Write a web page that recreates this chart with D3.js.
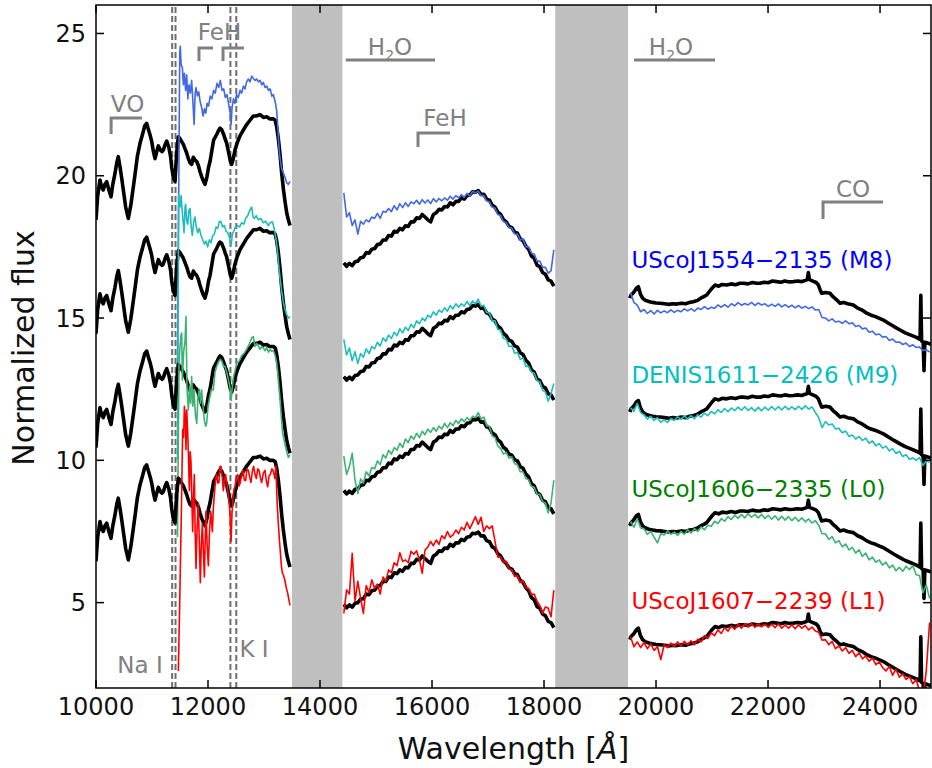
<!DOCTYPE html>
<html><head><meta charset="utf-8">
<script src="https://cdn.jsdelivr.net/npm/d3@7"></script>
<style>body{margin:0;background:#fff;} svg{display:block;font-family:"DejaVu Sans",sans-serif;}</style>
</head><body><svg id="c" width="932" height="768"></svg>
<script>
// ---------- data (normalized flux, before vertical offsets) ----------
// J band: [wavelength, flux] pairs
const modelJ = [[10000,6.45],[10030,7.3],[10071,7.85],[10100,7.6],[10130,7.5],[10160,7.7],[10191,7.79],[10230,7.5],[10268,7.26],[10300,7.7],[10339,8.08],[10370,8.45],[10398,8.67],[10430,8.3],[10460,7.9],[10488,7.5],[10530,6.9],[10577,6.5],[10620,6.95],[10666,7.6],[10700,8.1],[10740,8.7],[10786,9.14],[10830,9.45],[10870,9.75],[10905,9.84],[10940,9.6],[10970,9.4],[10995,9.2],[11025,8.85],[11054,8.6],[11085,8.85],[11113,9.05],[11150,8.9],[11180,8.85],[11202,8.9],[11235,9.1],[11263,9.22],[11300,9.0],[11330,8.7],[11352,8.3],[11380,7.95],[11411,7.8],[11440,8.8],[11470,9.37],[11500,9.3],[11530,9.2],[11560,9.1],[11589,8.95],[11619,8.8],[11650,8.6],[11679,8.45],[11708,8.4],[11738,8.65],[11770,8.55],[11798,8.5],[11830,8.35],[11857,8.15],[11890,7.95],[11920,7.8],[11946,7.7],[11980,7.95],[12010,8.3],[12036,8.5],[12070,8.9],[12100,9.25],[12155,9.45],[12190,9.6],[12214,9.67],[12244,9.62],[12280,9.45],[12304,9.3],[12333,9.15],[12370,8.8],[12400,8.5],[12423,8.4],[12445,8.55],[12482,8.9],[12520,9.15],[12571,9.4],[12630,9.6],[12691,9.8],[12750,9.95],[12810,10.1],[12860,10.1],[12929,10.15],[12990,10.05],[13048,10.07],[13100,10.0],[13167,10.0],[13200,9.95],[13226,9.72],[13256,9.3],[13286,8.75],[13315,8.1],[13345,7.55],[13375,7.1],[13405,6.7],[13435,6.45],[13464,6.25]];
const m8J = [[11455,1.25],[11495,12.3],[11505,12.55],[11520,11.9],[11542,11.8],[11560,11.2],[11578,11.6],[11600,11.0],[11619,11.55],[11640,10.7],[11661,11.2],[11685,10.9],[11708,11.35],[11730,10.6],[11752,9.8],[11770,10.9],[11786,11.1],[11810,10.8],[11835,10.95],[11860,10.6],[11887,10.4],[11910,10.1],[11935,10.35],[11960,10.2],[11985,10.55],[12010,10.45],[12040,10.8],[12070,10.7],[12100,11.0],[12130,10.9],[12160,11.25],[12190,11.1],[12220,11.35],[12250,11.0],[12280,11.05],[12310,10.75],[12340,10.85],[12370,10.5],[12395,10.2],[12412,9.8],[12430,10.4],[12455,10.7],[12480,10.55],[12510,10.85],[12540,10.75],[12571,11.0],[12600,10.9],[12631,11.15],[12660,11.05],[12690,11.3],[12720,11.4],[12750,11.3],[12780,11.5],[12810,11.42],[12840,11.35],[12870,11.4],[12899,11.3],[12930,11.35],[12960,11.2],[12988,11.28],[13020,11.1],[13050,11.15],[13080,11.0],[13110,11.05],[13140,10.8],[13167,10.85],[13200,10.6],[13226,10.3],[13250,9.6],[13270,8.9],[13295,8.5],[13315,8.25],[13345,8.1],[13375,7.95],[13405,7.75],[13435,7.7],[13465,7.8]];
const m9J = [[11455,2.0],[11475,11.35],[11500,10.9],[11520,11.3],[11542,10.7],[11560,10.3],[11572,10.0],[11590,10.9],[11601,11.0],[11620,10.4],[11637,10.3],[11660,10.8],[11679,10.85],[11700,10.2],[11720,9.9],[11745,10.4],[11768,10.55],[11790,10.2],[11816,10.0],[11845,10.15],[11875,9.9],[11905,9.75],[11935,9.6],[11965,9.7],[11994,9.5],[12025,9.75],[12054,9.65],[12085,9.9],[12113,9.95],[12145,10.2],[12173,10.15],[12205,10.4],[12232,10.38],[12262,10.2],[12292,10.25],[12322,10.05],[12351,10.0],[12380,9.85],[12411,9.55],[12435,9.95],[12458,10.05],[12490,10.2],[12530,10.25],[12565,10.2],[12601,10.35],[12640,10.3],[12673,10.5],[12710,10.6],[12750,10.8],[12780,10.9],[12805,10.55],[12827,10.5],[12860,10.6],[12899,10.45],[12940,10.5],[12988,10.35],[13030,10.4],[13077,10.25],[13110,10.35],[13149,10.38],[13175,10.2],[13196,10.0],[13220,9.7],[13244,9.28],[13265,8.8],[13286,8.42],[13315,7.95],[13345,7.55],[13375,7.3],[13405,7.12],[13435,7.0],[13464,7.05]];
const l0J = [[11455,3.3],[11482,9.39],[11500,10.0],[11518,10.4],[11530,10.47],[11542,8.82],[11566,9.83],[11590,10.2],[11607,11.05],[11625,8.5],[11649,7.77],[11670,8.6],[11690,8.0],[11708,8.94],[11730,7.9],[11750,8.5],[11775,7.6],[11798,7.3],[11820,8.2],[11845,8.5],[11865,8.0],[11887,8.47],[11910,7.9],[11935,7.4],[11958,7.2],[11976,7.3],[12000,7.9],[12030,8.2],[12060,8.5],[12095,8.47],[12125,9.1],[12155,9.3],[12185,9.45],[12214,9.55],[12244,9.5],[12280,9.3],[12304,9.3],[12333,9.1],[12363,8.85],[12390,8.6],[12411,8.1],[12430,8.5],[12458,8.96],[12490,9.2],[12512,9.41],[12560,9.5],[12601,9.68],[12640,9.75],[12690,9.9],[12740,10.1],[12780,10.3],[12810,10.35],[12839,10.0],[12870,10.1],[12899,10.04],[12930,9.9],[12960,10.0],[12988,9.95],[13020,9.85],[13048,9.97],[13080,9.8],[13110,9.9],[13137,9.83],[13167,9.85],[13196,9.7],[13220,9.5],[13244,9.11],[13265,8.6],[13286,8.15],[13310,7.5],[13330,7.0],[13355,6.75],[13375,6.55],[13405,6.3],[13435,6.1],[13464,6.2]];
const l1J = [[11470,2.6],[11490,4.5],[11518,7.49],[11535,9.5],[11548,11.09],[11565,10.8],[11578,11.9],[11595,11.5],[11607,10.37],[11620,11.77],[11637,11.0],[11652,10.1],[11667,8.93],[11682,10.3],[11696,9.94],[11712,8.6],[11726,7.49],[11742,8.8],[11756,9.5],[11770,7.5],[11786,6.2],[11805,7.6],[11827,8.5],[11845,7.1],[11863,5.7],[11880,7.0],[11899,7.78],[11917,6.8],[11935,5.9],[11950,7.2],[11964,8.21],[11985,7.0],[12006,6.3],[12027,7.5],[12048,8.21],[12062,7.9],[12077,7.49],[12095,8.3],[12113,8.79],[12135,9.3],[12155,9.5],[12175,9.2],[12196,9.22],[12214,9.78],[12232,9.79],[12255,9.4],[12274,8.93],[12295,9.3],[12315,9.5],[12340,9.1],[12363,8.79],[12390,8.2],[12411,7.15],[12430,8.2],[12446,8.64],[12465,9.0],[12482,9.07],[12505,9.4],[12530,9.5],[12555,9.1],[12577,9.22],[12600,9.5],[12625,9.65],[12650,9.3],[12673,9.29],[12695,9.7],[12720,9.65],[12745,9.4],[12768,9.22],[12790,9.6],[12815,9.79],[12840,9.5],[12863,9.36],[12887,9.7],[12911,9.65],[12935,9.4],[12958,9.22],[12988,9.55],[13018,9.65],[13040,9.3],[13065,9.07],[13090,9.45],[13113,9.5],[13140,9.7],[13161,9.65],[13180,9.5],[13196,9.36],[13212,9.8],[13226,8.93],[13240,8.3],[13256,7.78],[13275,7.2],[13292,6.77],[13310,6.3],[13327,6.05],[13350,5.95],[13375,5.76],[13400,5.5],[13423,5.33],[13445,5.1],[13464,4.9]];

// H band: sampled every 50 A from 14425 A
const wlH = d3.range(14425, 18176, 50);
const modelH = [4.94,4.82,4.92,4.84,4.98,5.0,5.12,5.14,5.3,5.28,5.42,5.44,5.58,5.6,5.74,5.74,5.9,5.88,6.05,6.02,6.15,6.1,6.24,6.22,6.38,6.38,6.52,6.5,6.64,6.55,6.45,6.38,6.64,6.7,6.82,6.8,6.92,6.9,7.05,6.98,7.1,7.1,7.22,7.18,7.3,7.32,7.44,7.42,7.48,7.34,7.35,7.18,7.14,6.96,6.9,6.72,6.64,6.46,6.38,6.22,6.18,6.02,5.98,5.78,5.72,5.52,5.42,5.18,5.1,4.86,4.8,4.6,4.54,4.34,4.3,4.12];
const m8H = [7.4,6.55,6.7,6.25,6.45,5.95,6.4,6.3,6.45,6.38,6.55,6.5,6.68,6.5,6.75,6.72,6.85,6.74,6.95,6.8,7.02,6.88,7.05,6.92,7.08,7.02,7.14,7.0,7.16,7.04,7.15,7.02,7.2,7.08,7.2,7.12,7.22,7.14,7.28,7.18,7.3,7.22,7.34,7.24,7.38,7.28,7.45,7.4,7.46,7.3,7.3,7.12,7.08,6.9,6.86,6.64,6.6,6.4,6.34,6.18,6.16,5.96,5.95,5.74,5.78,5.5,5.5,5.28,5.25,5.0,5.0,4.78,4.78,4.58,4.66,5.4];
const m9H = [6.25,5.7,5.95,5.5,5.82,5.4,5.75,5.62,5.92,5.75,6.0,5.92,6.15,6.02,6.3,6.18,6.4,6.28,6.5,6.38,6.62,6.48,6.68,6.56,6.78,6.66,6.9,6.8,7.0,6.9,7.1,7.02,7.22,7.1,7.28,7.2,7.36,7.24,7.44,7.32,7.5,7.38,7.5,7.42,7.58,7.44,7.6,7.5,7.66,7.42,7.45,7.2,7.18,6.9,6.9,6.6,6.58,6.28,6.26,6.0,6.02,5.76,5.8,5.55,5.6,5.3,5.3,5.1,5.06,4.8,4.76,4.46,4.4,4.08,4.35,4.7];
const l0H = [6.15,5.5,5.78,6.25,5.3,4.84,5.35,5.2,5.6,5.45,5.75,5.7,5.98,5.85,6.2,6.08,6.35,6.22,6.45,6.36,6.6,6.45,6.75,6.62,6.85,6.74,6.95,6.8,7.02,6.9,7.1,6.98,7.15,7.02,7.2,7.1,7.3,7.15,7.32,7.22,7.4,7.3,7.46,7.36,7.5,7.4,7.55,7.5,7.68,7.45,7.52,7.22,7.2,6.85,6.8,6.5,6.42,6.22,6.28,6.08,6.12,5.88,5.85,5.6,5.6,5.36,5.32,5.08,5.05,4.82,4.8,4.55,4.5,4.15,4.5,5.3];
const l1H = [4.62,5.45,5.3,6.73,5.05,5.75,5.15,4.62,5.6,5.35,5.8,5.5,5.65,5.3,5.9,5.75,6.15,6.05,6.4,6.3,6.75,6.45,6.5,6.4,6.8,6.7,6.82,6.5,6.03,6.85,6.95,7.15,7.0,7.2,7.05,7.35,7.25,7.5,7.3,7.38,7.55,7.42,7.65,7.55,7.82,7.6,7.8,8.02,7.75,8.0,7.5,7.7,7.6,7.7,7.15,6.6,6.6,6.42,6.45,6.18,6.15,5.92,5.95,5.7,5.78,5.52,5.5,5.28,5.3,5.05,4.9,4.62,4.85,4.8,4.5,5.44];

// K band: model as pairs, objects sampled every 60 A from 19545 A
const modelK = [[19530,3.7],[19554,3.81],[19600,3.9],[19650,4.05],[19685,4.1],[19720,3.85],[19760,3.7],[19804,3.63],[19870,3.58],[19940,3.55],[20000,3.53],[20071,3.52],[20150,3.5],[20230,3.48],[20300,3.5],[20369,3.49],[20450,3.52],[20530,3.5],[20600,3.55],[20667,3.57],[20740,3.62],[20800,3.7],[20860,3.76],[20905,3.81],[20960,3.95],[21000,4.05],[21054,4.16],[21120,4.12],[21180,4.18],[21262,4.16],[21340,4.2],[21420,4.17],[21500,4.22],[21560,4.22],[21640,4.2],[21720,4.25],[21800,4.22],[21857,4.22],[21930,4.26],[22000,4.24],[22080,4.3],[22155,4.28],[22230,4.26],[22300,4.3],[22380,4.27],[22452,4.28],[22530,4.3],[22600,4.28],[22660,4.32],[22700,4.35],[22720,4.6],[22740,4.35],[22800,4.3],[22860,4.25],[22899,4.16],[22930,4.0],[22958,3.87],[23030,3.9],[23107,3.87],[23160,3.75],[23220,3.65],[23286,3.52],[23350,3.55],[23420,3.5],[23524,3.46],[23600,3.35],[23680,3.28],[23762,3.17],[23840,3.1],[23920,3.05],[24000,2.98],[24060,2.93],[24150,2.82],[24250,2.7],[24357,2.58],[24450,2.48],[24550,2.4],[24650,2.32],[24715,2.25],[24728,3.8],[24742,2.2],[24770,2.15],[24785,1.15],[24800,2.15],[24850,2.12],[24910,2.08]];
const wlK = d3.range(19545, 24886, 60);
const m8K = [3.9,3.55,3.45,3.22,3.3,3.16,3.26,3.14,3.27,3.18,3.25,3.19,3.29,3.2,3.27,3.22,3.32,3.25,3.33,3.24,3.35,3.3,3.4,3.31,3.38,3.34,3.46,3.38,3.47,3.38,3.5,3.43,3.54,3.45,3.51,3.46,3.55,3.44,3.53,3.46,3.5,3.41,3.49,3.41,3.5,3.39,3.47,3.38,3.45,3.36,3.44,3.35,3.41,3.33,3.39,3.28,3.3,3.02,3.0,2.9,2.97,2.86,2.89,2.81,2.9,2.8,2.83,2.7,2.74,2.62,2.65,2.5,2.54,2.41,2.44,2.33,2.35,2.21,2.26,2.15,2.16,2.07,2.12,2.0,2.06,1.97,1.98,1.86,1.89,1.8];
const m9K = [3.85,3.72,4.0,3.68,3.6,3.45,3.55,3.4,3.5,3.34,3.42,3.33,3.47,3.4,3.53,3.44,3.56,3.45,3.57,3.46,3.6,3.52,3.66,3.57,3.72,3.63,3.78,3.68,3.82,3.71,3.84,3.75,3.87,3.76,3.88,3.75,3.85,3.73,3.86,3.74,3.87,3.76,3.89,3.77,3.89,3.77,3.9,3.78,3.88,3.78,3.9,3.79,3.92,3.8,3.88,3.68,3.5,3.15,3.36,3.24,3.28,3.1,3.13,2.97,3.03,2.84,2.89,2.75,2.84,2.7,2.78,2.6,2.68,2.51,2.59,2.43,2.5,2.33,2.41,2.24,2.32,2.13,2.2,2.03,2.09,2.0,2.1,1.82,1.98,1.92];
const l0K = [3.85,3.65,3.95,3.62,3.6,3.4,3.5,3.3,3.1,3.42,3.38,3.52,3.4,3.48,3.36,3.5,3.4,3.56,3.45,3.6,3.5,3.66,3.56,3.72,3.68,3.86,3.78,3.95,3.86,4.02,3.92,4.08,3.96,4.1,3.98,4.12,4.0,4.1,3.98,4.1,3.96,4.07,3.93,4.05,3.9,4.03,3.9,4.02,3.88,4.0,3.86,3.98,3.84,3.94,3.8,3.88,3.72,3.42,3.42,3.22,3.32,3.1,3.18,2.96,3.06,2.85,2.94,2.74,2.86,2.62,2.74,2.5,2.6,2.42,2.5,2.32,2.42,2.22,2.32,2.12,2.24,2.1,2.28,2.16,2.3,1.98,1.95,1.35,1.62,1.15];
const l1K = [3.8,3.45,3.62,3.42,3.6,3.38,3.55,3.32,3.46,3.0,3.52,3.42,3.58,3.45,3.62,3.48,3.64,3.52,3.66,3.52,3.72,3.62,3.84,3.74,3.94,3.84,4.04,3.92,4.12,4.0,4.18,4.06,4.24,4.1,4.26,4.14,4.27,4.13,4.26,4.15,4.25,4.13,4.25,4.12,4.26,4.1,4.22,4.1,4.22,4.08,4.22,4.1,4.2,4.04,4.14,4.0,3.96,3.68,3.7,3.52,3.64,3.38,3.48,3.3,3.42,3.22,3.32,3.1,3.24,3.02,3.12,2.94,3.05,2.82,2.92,2.72,2.6,2.76,2.45,2.66,2.38,2.5,2.3,2.4,2.15,2.3,1.9,1.6,2.6,4.3];

const objectNames = ["UScoJ1554\u22122135 (M8)", "DENIS1611\u22122426 (M9)", "UScoJ1606\u22122335 (L0)", "UScoJ1607\u22122239 (L1)"];
const offsets = [12, 8, 4, 0];
const labelFlux = [4.76, 4.72, 4.71, 4.78];
const gapBands = [[13500, 14400], [18200, 19500]];
const atomicLines = [11360, 11420, 12400, 12505];
const xTicks = [10000, 12000, 14000, 16000, 18000, 20000, 22000, 24000];
const yTicks = [5, 10, 15, 20, 25];
const featureNames = ["VO", "FeH", "H2O", "FeH", "H2O", "CO", "Na I", "K I"];
const featureTextPos = [[10563, 22.24], [12205, 24.77], [15250, 24.24], [16232, 21.75], [20268, 24.24], [23518, 19.25], [10786, 2.53], [12821, 3.09]];
const featureBars = [[10270, 10820, 22.03, 21.47], [11839, 12089, 24.49, 24.03], [12268, 12643, 24.49, 24.03], [14459, 16054, 24.07, null], [15750, 16321, 21.50, 21.01], [19607, 21054, 24.07, null], [22982, 24054, 19.08, 18.48]];

// ---------- styles ----------
const lineColors = ["#4169e1", "#1ebdbd", "#3cb371", "#ff0000"];
const labelColors = ["#0000ff", "#00bfbf", "#008000", "#ff0000"];

const onGrid = (wl, vals) => wl.map((w, i) => [w, vals[i]]);
const spectra = [
  [m8J, onGrid(wlH, m8H), onGrid(wlK, m8K)],
  [m9J, onGrid(wlH, m9H), onGrid(wlK, m9K)],
  [l0J, onGrid(wlH, l0H), onGrid(wlK, l0K)],
  [l1J, onGrid(wlH, l1H), onGrid(wlK, l1K)]
];
const model = [modelJ, onGrid(wlH, modelH), modelK];

const svg = d3.select("#c");
const L = 96, R = 931, T = 5, B = 688;
const x = d3.scaleLinear().domain([10000, 24910]).range([L, R]);
const y = d3.scaleLinear().domain([2, 26]).range([B, T]);

svg.append("defs").append("clipPath").attr("id", "clip")
  .append("rect").attr("x", L).attr("y", T).attr("width", R - L).attr("height", B - T);
const plot = svg.append("g").attr("clip-path", "url(#clip)");

plot.selectAll(".al").data(atomicLines).enter().append("line")
  .attr("x1", d => x(d)).attr("x2", d => x(d)).attr("y1", y(2)).attr("y2", y(26))
  .attr("stroke", "#6e6e6e").attr("stroke-width", 2).attr("stroke-dasharray", "6,3");

const line = off => d3.line().x(d => x(d[0])).y(d => y(d[1] + off));

offsets.forEach((off, i) => {
  model.forEach(seg => {
    plot.append("path").datum(seg).attr("d", line(off))
      .attr("fill", "none").attr("stroke", "#000").attr("stroke-width", 3.6)
      .attr("stroke-linejoin", "round");
  });
  spectra[i].forEach(seg => {
    plot.append("path").datum(seg).attr("d", line(off))
      .attr("fill", "none").attr("stroke", lineColors[i]).attr("stroke-width", 1.6)
      .attr("stroke-linejoin", "round");
  });
});

plot.selectAll(".band").data(gapBands).enter().append("rect")
  .attr("x", d => x(d[0])).attr("width", d => x(d[1]) - x(d[0]))
  .attr("y", T).attr("height", B - T).attr("fill", "#bfbfbf");

featureBars.forEach(b => {
  const p = b[3] === null
    ? `M${x(b[0])},${y(b[2])}H${x(b[1])}`
    : `M${x(b[0])},${y(b[3])}V${y(b[2])}H${x(b[1])}`;
  plot.append("path").attr("d", p).attr("fill", "none").attr("stroke", "#808080")
    .attr("stroke-width", 3);
});
featureNames.forEach((t, i) => {
  const tx = svg.append("text").attr("x", x(featureTextPos[i][0])).attr("y", y(featureTextPos[i][1]))
    .attr("text-anchor", "middle").attr("font-size", 23).attr("fill", "#808080");
  if (t === "H2O") {
    tx.append("tspan").text("H");
    tx.append("tspan").text("2").attr("font-size", 14).attr("dy", 5);
    tx.append("tspan").text("O").attr("dy", -5);
  } else tx.text(t);
});

objectNames.forEach((n, i) => {
  svg.append("text").attr("x", x(19560)).attr("y", y(labelFlux[i] + offsets[i]))
    .attr("font-size", 23).attr("fill", labelColors[i]).text(n);
});

svg.append("rect").attr("x", L).attr("y", T).attr("width", R - L).attr("height", B - T)
  .attr("fill", "none").attr("stroke", "#000").attr("stroke-width", 1.5);
const tk = svg.append("g").attr("stroke", "#000").attr("stroke-width", 1.5);
xTicks.forEach(v => {
  tk.append("line").attr("x1", x(v)).attr("x2", x(v)).attr("y1", B).attr("y2", B - 8);
  tk.append("line").attr("x1", x(v)).attr("x2", x(v)).attr("y1", T).attr("y2", T + 8);
});
yTicks.forEach(v => {
  tk.append("line").attr("x1", L).attr("x2", L + 8).attr("y1", y(v)).attr("y2", y(v));
  tk.append("line").attr("x1", R).attr("x2", R - 8).attr("y1", y(v)).attr("y2", y(v));
});
svg.selectAll(".xl").data(xTicks).enter().append("text")
  .attr("x", d => x(d)).attr("y", B + 27).attr("text-anchor", "middle")
  .attr("font-size", 24).attr("fill", "#111").text(d => d);
svg.selectAll(".yl").data(yTicks).enter().append("text")
  .attr("x", L - 10).attr("y", d => y(d)).attr("dy", "0.36em").attr("text-anchor", "end")
  .attr("font-size", 24).attr("fill", "#111").text(d => d);

const xt = svg.append("text").attr("x", (L + R) / 2).attr("y", 759).attr("text-anchor", "middle")
  .attr("font-size", 30).attr("fill", "#111");
xt.append("tspan").text("Wavelength [");
xt.append("tspan").text("\u00c5").attr("font-style", "italic");
xt.append("tspan").text("]");
svg.append("text").attr("transform", "translate(34,348) rotate(-90)").attr("text-anchor", "middle")
  .attr("font-size", 30).attr("fill", "#111").text("Normalized flux");
</script></body></html>
